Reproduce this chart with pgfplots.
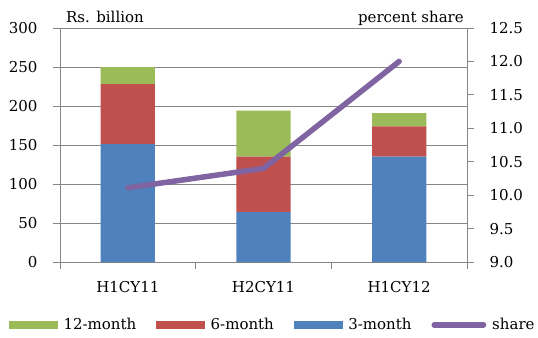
\documentclass[border=0pt]{standalone}
\usepackage{pgfplots}
\pgfplotsset{compat=1.18}
\usepackage{fontspec}
\setmainfont{DejaVu Serif}
\definecolor{c3m}{HTML}{4F81BD}
\definecolor{c6m}{HTML}{C0504D}
\definecolor{c12m}{HTML}{9BBB59}
\definecolor{cshare}{HTML}{8064A2}
\definecolor{axgray}{HTML}{868686}

\begin{document}
\begin{tikzpicture}[font=\fontsize{15bp}{18bp}\selectfont]
\useasboundingbox (0,0) rectangle (538bp,338bp);
\pgfplotsset{common/.style={
  scale only axis, width=407bp, height=234bp,
  at={(60bp,76bp)}, anchor=south west,
  xmin=-0.5, xmax=2.5,
  /pgf/number format/assume math mode=true,
  tick style={axgray, line width=1bp},
  axis line style={axgray, line width=1bp},
  tick align=outside,
  major tick length=7bp,
}}
% Issuance by tenor (Rs. billion), stacked
\begin{axis}[common,
  clip=false,
  ybar stacked, bar width=0.4,
  ymin=0, ymax=300, ytick={0,50,100,150,200,250,300},
  ymajorgrids, grid style={axgray, line width=1bp},
  xtick={-0.5,0.5,1.5,2.5}, xticklabels={},
  extra x ticks={0,1,2},
  extra x tick labels={H1CY11,H2CY11,H1CY12},
  extra x tick style={major tick length=0pt, xticklabel style={yshift=-16bp}},
  xtick pos=bottom, ytick pos=left,
  yticklabel style={xshift=-12bp},
]
\addplot[fill=c3m, draw=none] coordinates {(0,151) (1,64) (2,135)};
\addplot[fill=c6m, draw=none] coordinates {(0,77) (1,71) (2,39)};
\addplot[fill=c12m, draw=none] coordinates {(0,22) (1,59) (2,17)};
\node[anchor=base west, inner sep=0pt] at ([shift={(6bp,6bp)}]rel axis cs:0,1) {Rs. billion};
\node[anchor=base east, inner sep=0pt] at ([shift={(-3bp,6bp)}]rel axis cs:1,1) {percent share};
\end{axis}
% Share (percent), right axis
\begin{axis}[common,
  axis x line=none, axis y line*=right,
  ymin=9, ymax=12.5, ytick={9,9.5,10,10.5,11,11.5,12,12.5},
  yticklabel style={xshift=12bp, /pgf/number format/.cd, fixed, fixed zerofill, precision=1},
  legend columns=4,
  legend style={at={(0.523,-0.269)}, anchor=center, draw=none, fill=none,
    /tikz/every odd column/.append style={column sep=4bp},
    /tikz/every even column/.append style={column sep=18bp}},
]
\addlegendimage{legend image code/.code={\fill[c12m] (0bp,-3.5bp) rectangle (48bp,3.5bp);}}
\addlegendentry{12-month}
\addlegendimage{legend image code/.code={\fill[c6m] (0bp,-3.5bp) rectangle (48bp,3.5bp);}}
\addlegendentry{6-month}
\addlegendimage{legend image code/.code={\fill[c3m] (0bp,-3.5bp) rectangle (48bp,3.5bp);}}
\addlegendentry{3-month}
\addplot[cshare, line width=5.5bp, line cap=round, line join=round,
  legend image code/.code={\draw[cshare, line width=5.5bp, line cap=round] (2.75bp,0) -- (52bp,0);}]
  coordinates {(0,10.11) (1,10.40) (2,12.0)};
\addlegendentry{share}
\end{axis}
\end{tikzpicture}
\end{document}
